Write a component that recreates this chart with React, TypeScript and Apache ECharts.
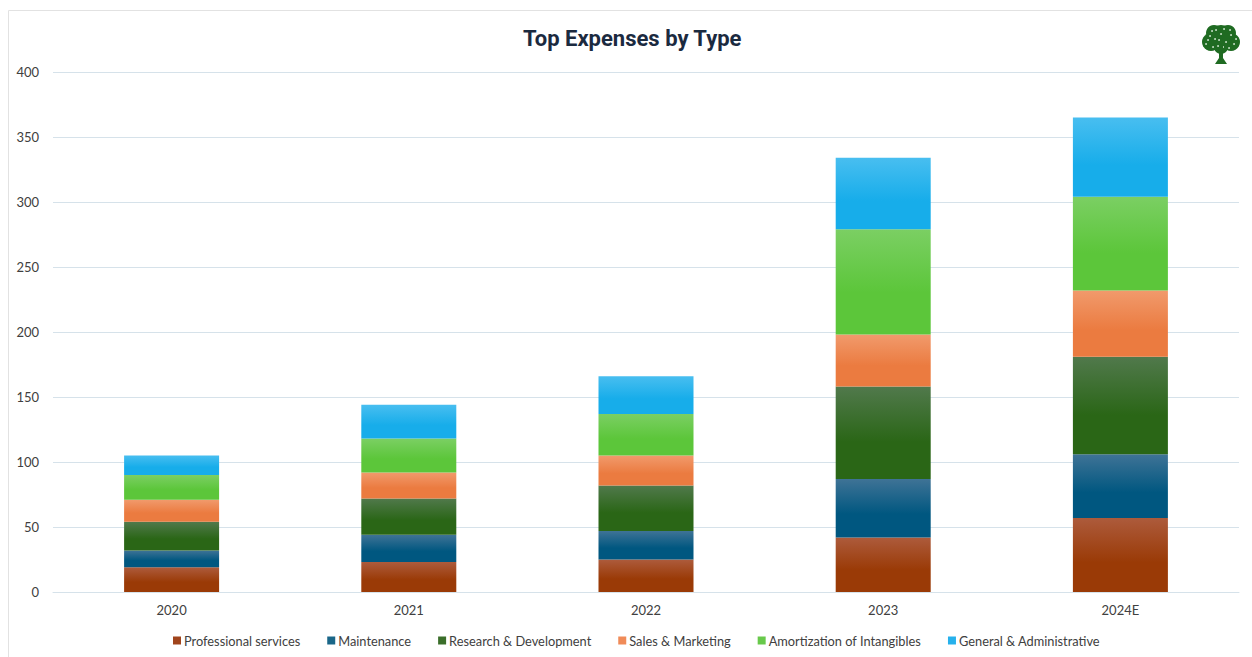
import React, { useEffect, useRef } from "react";
import * as echarts from "echarts";

const categories = ["2020", "2021", "2022", "2023", "2024E"];
const seriesNames = [
  "Professional services",
  "Maintenance",
  "Research & Development",
  "Sales & Marketing",
  "Amortization of Intangibles",
  "General & Administrative",
];
const professional = [19, 23, 25, 42, 57];
const maintenance = [13, 21, 22, 45, 49];
const research = [22, 28, 35, 71, 75];
const sales = [17, 20, 23, 40, 51];
const amortization = [19, 26, 32, 81, 72];
const general = [15, 26, 29, 55, 61];
const seriesValues = [professional, maintenance, research, sales, amortization, general];

const topColors = ["#ad5b3c", "#3f7396", "#51794c", "#f19a6c", "#7bcf63", "#48bef0"];
const bottomColors = ["#9a3a06", "#005780", "#2a6616", "#eb7b40", "#5cc63a", "#17adea"];
const legendColors = ["#a0441c", "#1a6688", "#3a6e2a", "#f08b58", "#68c94b", "#26b1ec"];

const FONT = "Lato";

export default function App() {
  const ref = useRef<HTMLDivElement>(null);
  useEffect(() => {
    document.body.style.margin = "0";
    const chart = echarts.init(ref.current!, null, { renderer: "svg" });
    const crown: any[] = [
      [1221, 38, 13],
      [1211, 42, 9],
      [1231, 42, 9],
      [1214, 33, 8],
      [1228, 33, 8],
      [1221, 47, 7],
    ].map(([cx, cy, r]) => ({
      type: "circle",
      shape: { cx, cy, r },
      style: { fill: "#1f6b22" },
    }));
    const speckles: any[] = [
      [1210, 36], [1216, 30], [1224, 29], [1231, 35], [1234, 44], [1206, 44],
      [1213, 47], [1219, 40], [1226, 42], [1221, 34], [1229, 48], [1215, 39],
      [1208, 40], [1236, 39], [1223, 47], [1218, 46], [1212, 31], [1230, 30],
    ].map(([cx, cy]) => ({
      type: "circle",
      shape: { cx, cy, r: 0.9 },
      style: { fill: "#d8ead8" },
    }));
    chart.setOption({
      animation: false,
      backgroundColor: "#ffffff",
      title: {
        text: "Top Expenses by Type",
        left: 518,
        top: 22,
        textStyle: {
          fontFamily: "Roboto",
          fontWeight: "bold",
          fontSize: 22,
          color: "#1b2a3f",
        },
      },
      grid: { left: 53, right: 13, top: 72, bottom: 65, containLabel: false },
      legend: {
        bottom: 5,
        left: 168,
        icon: "rect",
        itemWidth: 8,
        itemHeight: 8,
        itemGap: 27,
        data: seriesNames.map((n, i) => ({ name: n, itemStyle: { color: legendColors[i] } })),
        textStyle: { fontFamily: FONT, fontSize: 12.8, color: "#404040", padding: [0, 0, 0, -2] },
      },
      xAxis: {
        type: "category",
        data: categories,
        axisLine: { lineStyle: { color: "#d6e2ea" } },
        axisTick: { show: false },
        axisLabel: { fontFamily: FONT, fontSize: 13, color: "#404040", margin: 11 },
      },
      yAxis: {
        type: "value",
        min: 0,
        max: 400,
        interval: 50,
        splitLine: { lineStyle: { color: "#d6e2ea" } },
        axisLine: { show: false },
        axisTick: { show: false },
        axisLabel: { fontFamily: FONT, fontSize: 13, color: "#404040", margin: 14 },
      },
      series: seriesNames.map((name, i) => ({
        name,
        type: "bar",
        stack: "total",
        barWidth: 95,
        data: seriesValues[i],
        emphasis: { disabled: true },
        itemStyle: {
          color: {
            type: "linear",
            x: 0,
            y: 0,
            x2: 0,
            y2: 1,
            colorStops: [
              { offset: 0, color: topColors[i] },
              { offset: 0.6, color: bottomColors[i] },
              { offset: 1, color: bottomColors[i] },
            ],
          },
        },
      })),
      graphic: [
        {
          type: "rect",
          shape: { x: 8.5, y: 10.5, width: 1300, height: 700 },
          style: { fill: "none", stroke: "#e2e2e2", lineWidth: 1 },
          silent: true,
          z: -10,
        },
        {
          type: "group",
          children: [
            ...crown,
            ...speckles,
            {
              type: "polygon",
              shape: {
                points: [
                  [1219, 44],
                  [1223, 44],
                  [1223, 58],
                  [1227, 64],
                  [1215, 64],
                  [1219, 58],
                ],
              },
              style: { fill: "#1f6b22" },
            },
          ],
        },
      ],
    });
    return () => chart.dispose();
  }, []);
  return <div ref={ref} style={{ width: 1252, height: 657 }} />;
}
